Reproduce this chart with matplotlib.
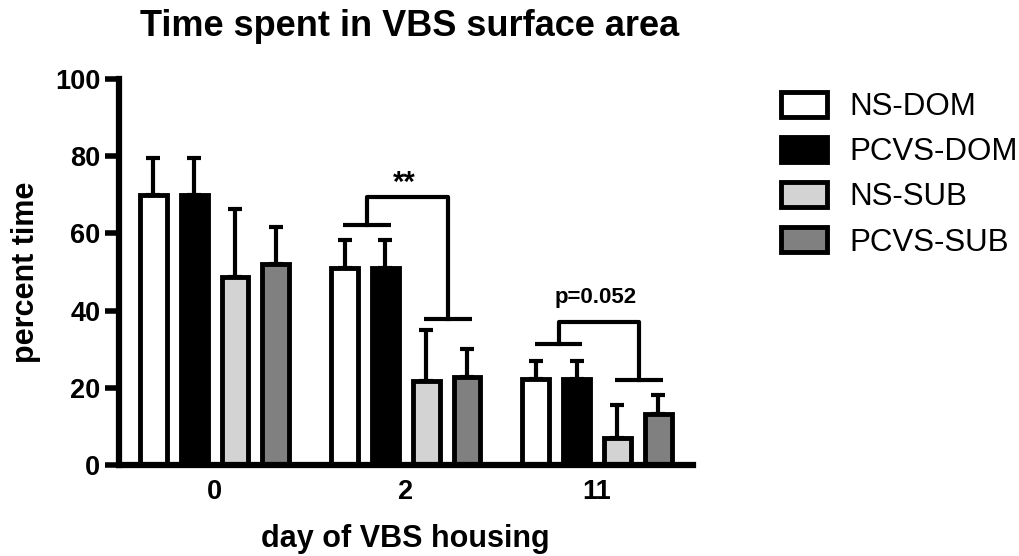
import matplotlib.pyplot as plt
import numpy as np

plt.rcParams['font.family'] = ['Liberation Sans', 'DejaVu Sans']

days = ['0', '2', '11']
groups = ['NS-DOM', 'PCVS-DOM', 'NS-SUB', 'PCVS-SUB']
colors = ['white', 'black', '#d3d3d3', '#808080']

means = {
    'NS-DOM':   [70.0, 51.0, 22.3],
    'PCVS-DOM': [70.0, 51.0, 22.3],
    'NS-SUB':   [48.7, 21.8, 7.0],
    'PCVS-SUB': [52.0, 22.9, 13.2],
}
errs = {
    'NS-DOM':   [9.5, 7.3, 4.7],
    'PCVS-DOM': [9.5, 7.3, 4.7],
    'NS-SUB':   [17.6, 13.2, 8.5],
    'PCVS-SUB': [9.7, 7.1, 4.8],
}

fig = plt.figure(figsize=(10.2, 5.56), dpi=100)
ax = fig.add_axes([0.1167, 0.1637, 0.5623, 0.6943])

x = np.arange(len(days))
step = 0.2135
width = 0.14
for i, g in enumerate(groups):
    pos = x + (i - 1.5) * step
    ax.bar(pos, means[g], width, color=colors[i], edgecolor='black',
           linewidth=3.5, label=g, zorder=2)
    ax.errorbar(pos, means[g], yerr=[np.zeros(3), errs[g]], fmt='none',
                ecolor='black', elinewidth=3, capsize=5, capthick=3, zorder=1)

# significance brackets
def bracket(xl, xr, yl, yr, ytop, text, tx, ty, fs):
    lw = 3
    ax.plot([xl[0], xl[1]], [yl, yl], color='black', lw=lw, solid_capstyle='butt')
    ax.plot([xr[0], xr[1]], [yr, yr], color='black', lw=lw, solid_capstyle='butt')
    lc = (xl[0] + xl[1]) / 2
    rc = (xr[0] + xr[1]) / 2
    ax.plot([lc, lc, rc, rc], [yl, ytop, ytop, yr], color='black', lw=lw)
    ax.text(tx, ty, text, ha='center', va='center', fontsize=fs, fontweight='bold')

bracket((0.672, 0.922), (1.094, 1.344), 62.2, 37.8, 69.5, '**', 0.99, 73.0, 21)
bracket((1.677, 1.922), (2.094, 2.344), 31.3, 22.0, 37.1, 'p=0.052', 1.995, 43.5, 16)

ax.set_xlim(-0.5, 2.5)
ax.set_ylim(0, 100)
ax.set_xticks(x)
ax.set_xticklabels(days)
ax.set_yticks([0, 20, 40, 60, 80, 100])
for s in ['top', 'right']:
    ax.spines[s].set_visible(False)
for s in ['left', 'bottom']:
    ax.spines[s].set_linewidth(4.5)
ax.tick_params(axis='both', width=4, length=10, labelsize=19.5)
ax.tick_params(axis='x', length=0, pad=10)
for lab in ax.get_xticklabels() + ax.get_yticklabels():
    lab.set_fontweight('bold')

ax.set_ylabel('percent time', fontsize=22, fontweight='bold', labelpad=10)
ax.set_xlabel('day of VBS housing', fontsize=22, fontweight='bold', labelpad=14)
fig.text(0.402, 0.952, 'Time spent in VBS surface area', ha='center', va='center',
         fontsize=26, fontweight='bold')

leg = ax.legend(loc='upper left', bbox_to_anchor=(765 / 1020, 1 - 76 / 556),
                bbox_transform=fig.transFigure, frameon=False, borderpad=0,
                fontsize=22.5, handlelength=1.5, handleheight=0.85,
                labelspacing=0.48, handletextpad=0.7)

fig.savefig('out.png', dpi=100)
